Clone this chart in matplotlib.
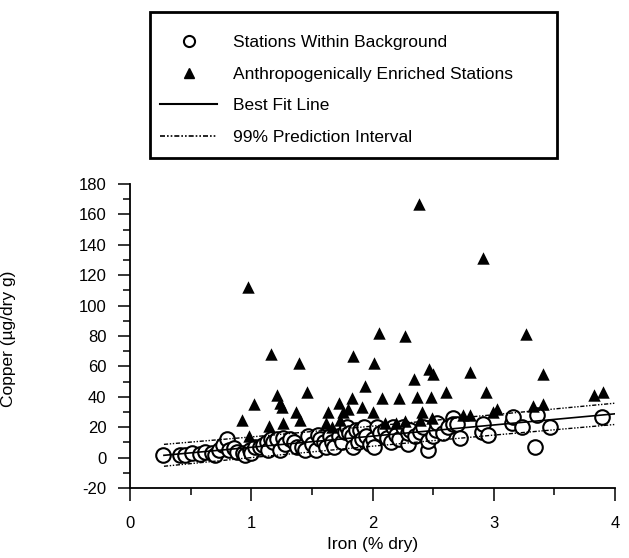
import matplotlib
matplotlib.use("Agg")
import matplotlib.pyplot as plt
from matplotlib.lines import Line2D
from matplotlib.patches import Rectangle

plt.rcParams["font.family"] = ["Liberation Sans", "DejaVu Sans"]
plt.rcParams["axes.unicode_minus"] = False

# background stations (iron %, copper ug/g)
bg_iron = [0.27, 0.41, 0.45, 0.51, 0.58, 0.62, 0.68, 0.70, 0.73, 0.77,
           0.80, 0.82, 0.86, 0.88, 0.93, 0.95, 0.99, 1.00, 1.03, 1.07,
           1.10, 1.13, 1.14, 1.16, 1.18, 1.21, 1.24, 1.26, 1.28, 1.32,
           1.35, 1.38, 1.42, 1.44, 1.47, 1.50, 1.53, 1.55, 1.57, 1.60,
           1.62, 1.65, 1.67, 1.68, 1.72, 1.75, 1.77, 1.79, 1.81, 1.83,
           1.84, 1.86, 1.88, 1.90, 1.91, 1.93, 1.95, 1.98, 2.00, 2.01,
           2.04, 2.06, 2.10, 2.12, 2.15, 2.17, 2.19, 2.22, 2.25, 2.29,
           2.29, 2.31, 2.35, 2.39, 2.42, 2.46, 2.46, 2.50, 2.52, 2.53,
           2.58, 2.62, 2.66, 2.66, 2.70, 2.72, 2.90, 2.91, 2.95, 3.15,
           3.16, 3.23, 3.34, 3.36, 3.46, 3.89]
bg_copper = [1.5, 1.5, 2, 3, 2.5, 4, 3, 2, 5, 8,
             12, 5, 6, 4, 3, 2, 5, 3, 7, 7,
             8, 10, 5, 12, 10, 12, 5, 13, 9, 12,
             10, 7, 7, 5, 14, 9, 5, 15, 12, 10,
             7, 14, 10, 7, 14, 10, 17, 20, 16, 14,
             7, 18, 10, 18, 12, 20, 14, 9, 12, 7,
             20, 16, 18, 13, 10, 20, 15, 12, 20, 9,
             16, 18, 14, 17, 20, 5, 11, 14, 18, 23,
             16, 20, 26, 22, 22, 13, 17, 22, 15, 23,
             27, 20, 7, 28, 20, 27]

# anthropogenically enriched stations
en_iron = [0.92, 0.97, 0.98, 1.02, 1.15, 1.16, 1.21, 1.24, 1.25, 1.26,
           1.37, 1.39, 1.40, 1.46, 1.62, 1.63, 1.67, 1.72, 1.73, 1.76,
           1.80, 1.83, 1.84, 1.91, 1.94, 2.00, 2.01, 2.05, 2.08, 2.10,
           2.19, 2.22, 2.27, 2.27, 2.34, 2.37, 2.38, 2.39, 2.41, 2.47,
           2.48, 2.49, 2.50, 2.61, 2.75, 2.80, 2.80, 2.91, 2.94, 2.99,
           3.03, 3.27, 3.32, 3.41, 3.41, 3.83, 3.90]
en_copper = [25, 112, 14, 35, 21, 68, 41, 36, 33, 23,
             30, 62, 25, 43, 23, 30, 20, 36, 25, 30,
             32, 39, 67, 33, 47, 30, 62, 82, 39, 23,
             23, 39, 80, 24, 52, 40, 167, 25, 30, 58,
             40, 26, 55, 43, 28, 56, 28, 131, 43, 30,
             32, 81, 34, 35, 55, 41, 43]

# regression line and 99% prediction interval
fit_x = [0.28, 4.0]
fit_y = [1.5, 28.8]
pi_x = [0.28, 1.0, 2.0, 3.0, 4.0]
pi_upper = [8.7, 13.6, 20.7, 28.2, 35.8]
pi_lower = [-5.7, 0.0, 7.5, 14.8, 21.8]

pi_style = (0, (3, 1.2, 1, 1.2, 1, 1.2))

fig = plt.figure(figsize=(6.29, 5.58), dpi=100)
ax = fig.add_axes([130 / 629, 1 - 488 / 558, 485 / 629, 304 / 558])

ax.scatter(bg_iron, bg_copper, s=110, marker="o", facecolor="white",
           edgecolor="black", linewidth=1.5, zorder=2)
ax.scatter(en_iron, en_copper, s=80, marker="^", color="black",
           linewidth=0, zorder=3)
ax.plot(fit_x, fit_y, "-k", lw=1.2, zorder=4)
ax.plot(pi_x, pi_upper, color="k", lw=1.0, linestyle=pi_style, zorder=4)
ax.plot(pi_x, pi_lower, color="k", lw=1.0, linestyle=pi_style, zorder=4)

ax.set_xlim(0, 4)
ax.set_ylim(-20, 180)
ax.set_xticks([0, 1, 2, 3, 4])
ax.set_xticks([0.5, 1.5, 2.5, 3.5], minor=True)
ax.set_yticks(range(-20, 181, 20))
ax.set_yticks(range(-10, 180, 20), minor=True)
for side in ["top", "right"]:
    ax.spines[side].set_visible(False)
for side in ["left", "bottom"]:
    ax.spines[side].set_linewidth(1.3)
ax.tick_params(which="major", length=9, width=1.1, labelsize=12)
ax.tick_params(which="minor", length=5, width=1.1)
ax.tick_params(axis="y", which="major", pad=8)
ax.tick_params(axis="x", which="major", pad=11)

ax.set_xlabel("Iron (% dry)", fontsize=12.5)
ax.set_ylabel("Copper (µg/dry g)", fontsize=12.5)
ax.xaxis.set_label_coords(0.5, -0.16)
ax.yaxis.set_label_coords(-0.235, 0.49)

# legend box
fig.patches.append(Rectangle((150 / 629, 1 - 158 / 558), 407 / 629, 146 / 558,
                             transform=fig.transFigure, fill=False,
                             edgecolor="black", linewidth=2))
handles = [
    Line2D([], [], marker="o", ls="", mfc="white", mec="black", ms=8, mew=1.5),
    Line2D([], [], marker="^", ls="", color="black", ms=7.5),
    Line2D([], [], color="black", lw=1.5),
    Line2D([], [], color="black", lw=1.2, linestyle=pi_style),
]
labels = ["Stations Within Background", "Anthropogenically Enriched Stations",
          "Best Fit Line", "99% Prediction Interval"]
fig.legend(handles, labels, loc="upper left",
           bbox_to_anchor=(160 / 629, 1 - 35 / 558), frameon=False,
           fontsize=12.5, handlelength=3.3, handletextpad=0.92,
           labelspacing=0.95, borderpad=0, borderaxespad=0)

fig.savefig("out.png", dpi=100)
